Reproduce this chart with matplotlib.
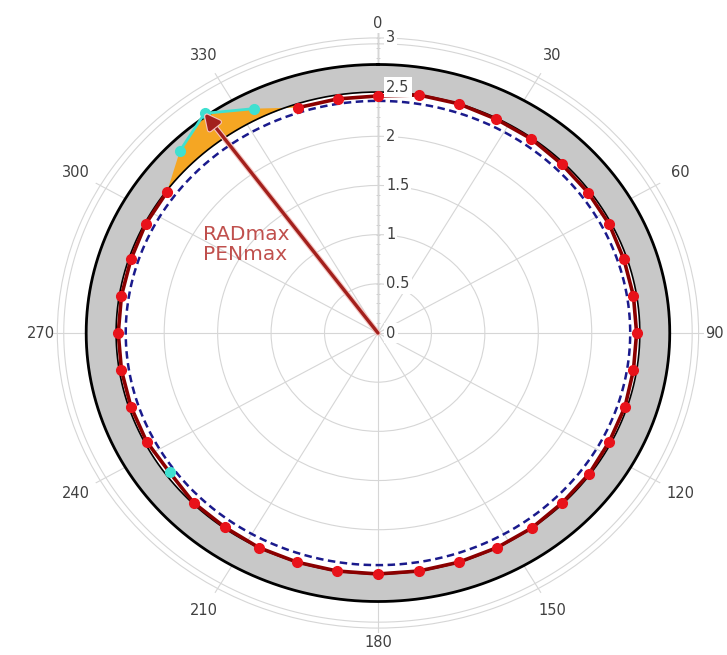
import numpy as np
import matplotlib
matplotlib.use('Agg')
import matplotlib.pyplot as plt
import matplotlib.transforms as mtransforms
import matplotlib.patheffects as pe

# measured radius, one reading every 9 degrees
theta_deg = np.arange(0, 360, 9)
pen_r = [2.41, 2.45, 2.45, 2.44, 2.44, 2.43, 2.43, 2.43, 2.42, 2.42,
         2.42, 2.42, 2.43, 2.43, 2.44, 2.44, 2.45, 2.45, 2.45, 2.45,
         2.45, 2.45, 2.45, 2.45, 2.44, 2.44, 2.41, 2.43, 2.43, 2.43,
         2.43, 2.43, 2.43, 2.44, 2.44, 2.62, 2.76, 2.56, 2.41, 2.41]
over_deg = [315, 324, 333]     # readings outside the ring
flag_deg = [234]
ring_in = 2.45
ring_out = 2.73
nominal_r = 2.36
r_ticks = [0, 0.5, 1, 1.5, 2, 2.5, 3]
r_tick_labels = ['0', '0.5', '1', '1.5', '2', '2.5', '3']
angle_ticks = list(range(0, 360, 30))

pen_r = np.array(pen_r)
th = np.deg2rad(theta_deg)
full = np.linspace(0, 2 * np.pi, 721)
rmax = 3.05

fig = plt.figure(figsize=(7.27, 6.55), dpi=100)
ax = fig.add_axes([0.0715, 0.0336, 0.8968, 0.916], projection='polar')
ax.set_aspect('auto')
ax.set_theta_zero_location('N')
ax.set_theta_direction(-1)
ax.set_ylim(0, rmax)
ax.spines['polar'].set_visible(False)
ax.set_axisbelow(True)

ax.set_xticks(np.deg2rad(angle_ticks))
ax.set_xticklabels([])
ax.set_yticks([0.5, 1, 1.5, 2, 2.5, 3])
ax.set_yticklabels([])
ax.tick_params(length=0)
ax.grid(True, color='#d6d6d6', lw=0.8)
ax.plot(full, np.full_like(full, 2.94), color='#d6d6d6', lw=0.8, zorder=0)

# grey ring
ax.fill_between(full, ring_in, ring_out, color='#c8c8c8', lw=0, zorder=1)

# orange area where readings leave the ring
over = np.isin(theta_deg, over_deg)
idx = np.where(over)[0]
i0, i1 = idx[0] - 1, idx[-1] + 1
arc = np.linspace(th[i1], th[i0], 40)
poly_t = np.concatenate([th[i0:i1 + 1], arc])
poly_r = np.concatenate([pen_r[i0:i1 + 1], np.full_like(arc, ring_in)])
ax.fill(poly_t, poly_r, color='#f5a623', lw=0, zorder=2)

ax.plot(full, np.full_like(full, ring_out), color='black', lw=2.0, zorder=3)
ax.plot(full, np.full_like(full, ring_in), color='black', lw=1.2, zorder=3)
ax.plot(full, np.full_like(full, nominal_r), color='#1a1a8c', lw=1.8,
        ls=(0, (3, 1.8)), zorder=3)

# red readings
r_line = np.where(over, np.nan, pen_r)
ax.plot(np.append(th, 2 * np.pi), np.append(r_line, r_line[0]),
        color='#8b0000', lw=2.6, zorder=4)
red_pts = ~over & ~np.isin(theta_deg, flag_deg)
ax.plot(th[red_pts], pen_r[red_pts], 'o', color='#e8121a', ms=7, mec='#e8121a', zorder=5)

# cyan readings
ax.plot(th[over], pen_r[over], '-o', color='#3fe0d0', lw=2, ms=7, zorder=5)
fl = np.isin(theta_deg, flag_deg)
ax.plot(th[fl], pen_r[fl], 'o', color='#3fe0d0', ms=7, zorder=5)

# axis line at 0 degrees
ax.plot([0, 0], [0, rmax], color='#a8a8a8', lw=1, zorder=0.5)
minor = np.arange(0.1, 3.01, 0.1)
ax.plot(np.zeros_like(minor), minor, '_', color='#cfcfcf', ms=3, mew=0.6, zorder=0.5)

# arrow to the max reading
k = int(np.argmax(pen_r))
ax.annotate('', xy=(th[k], pen_r[k]), xytext=(0, 0),
            arrowprops=dict(arrowstyle='-|>', color='#a3201c', lw=2.4,
                            mutation_scale=22, shrinkA=0, shrinkB=0,
                            path_effects=[pe.withStroke(linewidth=4, foreground='#f3c4c0')]),
            zorder=6)

fig.text(203 / 727, 1 - 225 / 655, 'RADmax\nPENmax', ha='left', va='top',
         fontsize=14.5, color='#c0504d', linespacing=1.05)

# radial labels
off = mtransforms.offset_copy(ax.transData, fig=fig, x=8, y=0, units='dots')
for r, lab in zip(r_ticks, r_tick_labels):
    ax.text(0, r, lab, transform=off, ha='left', va='center', fontsize=10.5,
            color='#404040', zorder=7,
            bbox=dict(boxstyle='square,pad=0.15', fc='white', ec='none'))

# angle labels, pushed out a bit more on the diagonals
for a in angle_ticks:
    t = np.deg2rad(a)
    ax.text(t, 3.15 + 0.13 * abs(np.sin(2 * t)), str(a), ha='center', va='center',
            fontsize=10.5, color='#404040')

fig.savefig('out.png', dpi=100, facecolor='white')
